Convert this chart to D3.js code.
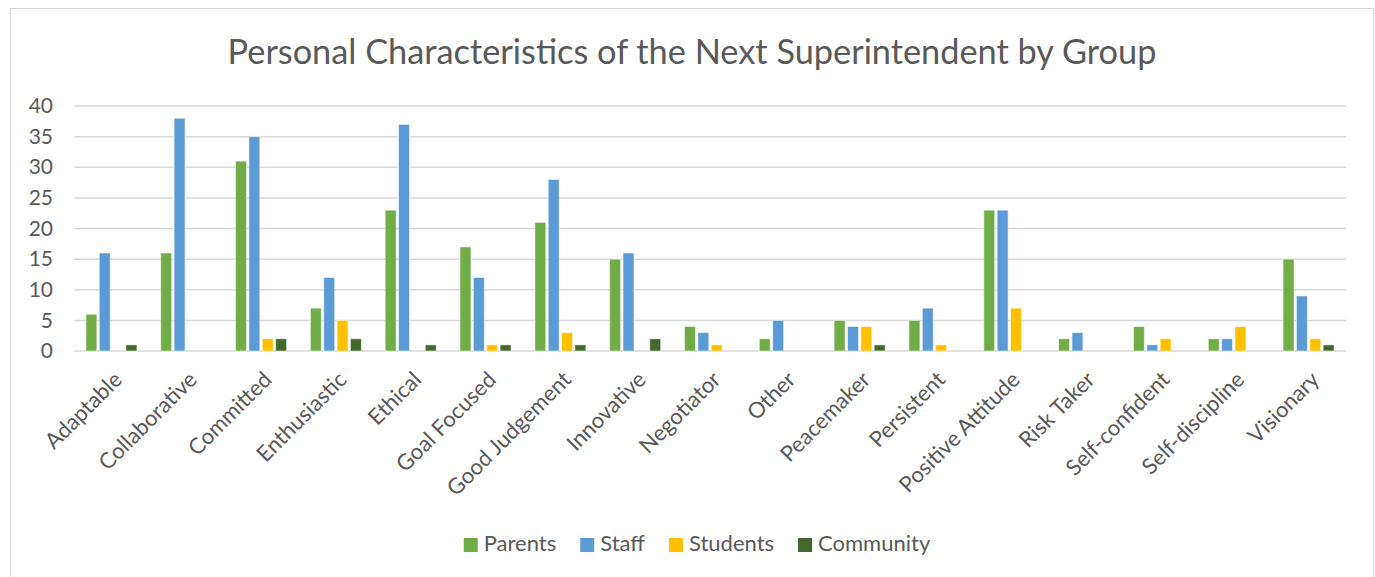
<!DOCTYPE html>
<html>
<head>
<meta charset="utf-8">
<script src="https://cdn.jsdelivr.net/npm/d3@7"></script>
<style>
  html, body { margin: 0; padding: 0; background: #fff; }
  svg { display: block; font-family: Lato, "Open Sans", "Liberation Sans", sans-serif; }
</style>
</head>
<body>
<svg id="chart" width="1375" height="577"></svg>
<script>
// Survey counts per characteristic, one array per respondent group
const categories = ["Adaptable", "Collaborative", "Committed", "Enthusiastic", "Ethical",
  "Goal Focused", "Good Judgement", "Innovative", "Negotiator", "Other", "Peacemaker",
  "Persistent", "Positive Attitude", "Risk Taker", "Self-confident", "Self-discipline", "Visionary"];
const seriesNames = ["Parents", "Staff", "Students", "Community"];
const parents   = [6, 16, 31, 7, 23, 17, 21, 15, 4, 2, 5, 5, 23, 2, 4, 2, 15];
const staff     = [16, 38, 35, 12, 37, 12, 28, 16, 3, 5, 4, 7, 23, 3, 1, 2, 9];
const students  = [0, 0, 2, 5, 0, 1, 3, 0, 1, 0, 4, 1, 7, 0, 2, 4, 2];
const community = [1, 0, 2, 2, 1, 1, 1, 2, 0, 0, 1, 0, 0, 0, 0, 0, 1];
const yTicks = [0, 5, 10, 15, 20, 25, 30, 35, 40];
const titleText = "Personal Characteristics of the Next Superintendent by Group";

const seriesValues = [parents, staff, students, community];
const colors = ["#70AD47", "#5B9BD5", "#FFC000", "#43682B"];
const textColor = "#595959";

const svg = d3.select("#chart");

// chart frame
svg.append("rect")
  .attr("x", 10.5).attr("y", 8.5)
  .attr("width", 1363).attr("height", 600)
  .attr("fill", "#fff").attr("stroke", "#D9D9D9").attr("stroke-width", 1);

const plot = { left: 74, right: 1346, top: 106, bottom: 351 };

const x0 = d3.scaleBand().domain(categories)
  .range([plot.left, plot.right]).paddingInner(0.318).paddingOuter(0.159);
const x1 = d3.scaleBand().domain(seriesNames)
  .range([0, x0.bandwidth()]).paddingInner(0.18);
const y = d3.scaleLinear().domain([0, 40]).range([plot.bottom, plot.top]);

// horizontal gridlines
svg.append("g")
  .selectAll("line").data(yTicks).join("line")
  .attr("x1", plot.left).attr("x2", plot.right)
  .attr("y1", d => y(d)).attr("y2", d => y(d))
  .attr("stroke", "#D9D9D9").attr("stroke-width", 1.5);

// y axis labels
const yAxis = d3.axisLeft(y).tickValues(yTicks).tickSize(0).tickPadding(0);
const yg = svg.append("g").attr("transform", `translate(53,0)`).call(yAxis);
yg.select(".domain").remove();
yg.selectAll("text")
  .attr("fill", textColor).attr("font-size", 21)
  .attr("font-family", "Lato, 'Open Sans', sans-serif");

// bars
const rows = categories.map((c, i) => ({ cat: c, vals: seriesNames.map((s, k) => ({ s, v: seriesValues[k][i], k })) }));
const groups = svg.append("g").selectAll("g").data(rows).join("g")
  .attr("transform", d => `translate(${x0(d.cat)},0)`);
groups.selectAll("rect").data(d => d.vals.filter(e => e.v > 0)).join("rect")
  .attr("x", d => x1(d.s))
  .attr("width", x1.bandwidth())
  .attr("y", d => y(d.v))
  .attr("height", d => y(0) - y(d.v))
  .attr("fill", d => colors[d.k])
  .attr("stroke", "#fff").attr("stroke-opacity", 0.55).attr("stroke-width", 1);

// rotated category labels
svg.append("g").selectAll("text").data(categories).join("text")
  .attr("transform", d => `translate(${x0(d) + x0.bandwidth() / 2 + 12},381) rotate(-45)`)
  .attr("text-anchor", "end")
  .attr("fill", textColor).attr("font-size", 22)
  .text(d => d);

// title, sized to span its measured width
const title = svg.append("text")
  .attr("x", 692).attr("y", 64)
  .attr("text-anchor", "middle")
  .attr("fill", textColor)
  .attr("font-size", 34)
  .text(titleText);
const tw = title.node().getComputedTextLength();
title.attr("font-size", 34 * 929 / tw);

// legend
const legend = svg.append("g");
const items = seriesNames.map((s, k) => {
  const g = legend.append("g");
  g.append("rect").attr("x", 0).attr("y", -13).attr("width", 14).attr("height", 14).attr("fill", colors[k]);
  const t = g.append("text").attr("x", 20).attr("y", 0).attr("fill", textColor).attr("font-size", 22).text(s);
  return { g, w: 20 + t.node().getComputedTextLength() };
});
const gap = 24;
const total = d3.sum(items, d => d.w) + gap * (items.length - 1);
let cx = 697 - total / 2;
items.forEach(it => {
  it.g.attr("transform", `translate(${cx},551)`);
  cx += it.w + gap;
});
</script>
</body>
</html>
